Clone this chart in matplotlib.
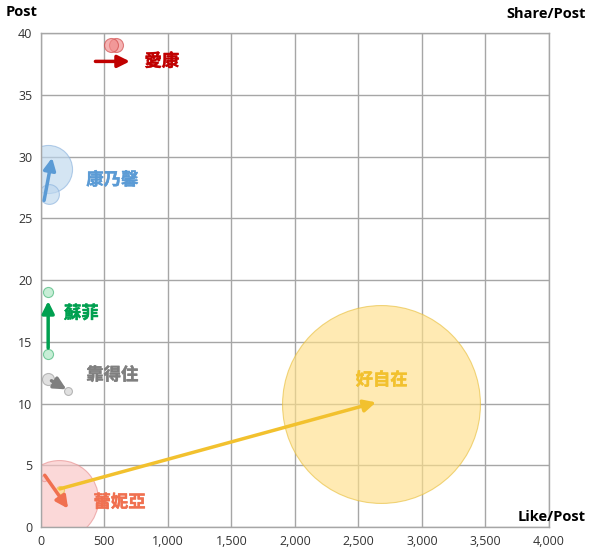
import numpy as np
import matplotlib.pyplot as plt
import matplotlib.patheffects as pe
from matplotlib.ticker import FuncFormatter

plt.rcParams['font.family'] = ['Noto Sans CJK TC', 'DejaVu Sans']

# brand data: previous period -> current period
brands = ['愛康', '康乃馨', '蘇菲', '靠得住', '蕾妮亞', '好自在']
prev_like = [551, 63, 55, 55, 24, 150]
prev_post = [39, 27, 14, 12, 4, 3]
prev_share = [0.5, 1.0, 0.26, 0.37, 0.1, 0.16]
cur_like = [590, 55, 55, 213, 140, 2677]
cur_post = [39, 29, 19, 11, 2.3, 10]
cur_share = [0.5, 5.9, 0.26, 0.16, 15.5, 100]

# arrow annotations (tail -> head) and label anchors, data coords
arrow_from = [(430, 37.7), (26, 26.45), (58, 14.5), (84, 11.85), (31, 4.2), (150, 3.1)]
arrow_to = [(701, 37.7), (89, 29.9), (58, 18.3), (202, 11.15), (215, 1.5), (2638, 10.1)]
label_pos = [(953, 37.7), (563, 28.1), (319, 17.3), (563, 12.3), (620, 2.0), (2683, 11.9)]

text_colors = ['#C00000', '#5B9BD5', '#00A050', '#7F7F7F', '#F07050', '#F2C12E']
fill_colors = ['#F08A8A', '#BDD7EE', '#A9E5C0', '#D0D0D0', '#F9C4C4', '#FFE08A']
edge_colors = ['#D04848', '#8DB4DE', '#3CB371', '#999999', '#E89090', '#E8C040']
arrow_colors = ['#C00000', '#5B9BD5', '#00A050', '#7F7F7F', '#F07050', '#F2C12E']

K = 203.0  # marker area (pt^2) per Share/Post unit

fig = plt.figure(figsize=(6.0, 5.59), dpi=100)
ax = fig.add_axes([0.068, 0.057, 0.847, 0.884])

ax.set_xlim(0, 4000)
ax.set_ylim(0, 40)
ax.set_xticks(np.arange(0, 4001, 500))
ax.set_yticks(np.arange(0, 41, 5))
ax.xaxis.set_major_formatter(FuncFormatter(lambda v, p: f'{int(v):,}'))
ax.grid(True, color='#A6A6A6', lw=1.0, zorder=0)
ax.tick_params(length=0, labelsize=9, colors='#333333', pad=6)
for lab in ax.get_xticklabels() + ax.get_yticklabels():
    lab.set_family(['Open Sans', 'DejaVu Sans'])
for sp in ax.spines.values():
    sp.set_color('#A6A6A6')
    sp.set_linewidth(1.0)

# bubbles, biggest drawn first
all_pts = []
for i in range(len(brands)):
    all_pts.append((cur_share[i], cur_like[i], cur_post[i], i))
    all_pts.append((prev_share[i], prev_like[i], prev_post[i], i))
all_pts.sort(key=lambda t: -t[0])
for z, (sh, x, y, i) in enumerate(all_pts):
    ax.scatter([x], [y], s=sh * K, color=fill_colors[i], edgecolors=edge_colors[i],
               linewidths=0.8, alpha=0.65, zorder=2 + z * 0.01)

for i in range(len(brands)):
    ax.annotate('', xy=arrow_to[i], xytext=arrow_from[i],
                arrowprops=dict(arrowstyle='-|>', color=arrow_colors[i], lw=2.5,
                                mutation_scale=18, shrinkA=0, shrinkB=0),
                zorder=4)
    ax.text(label_pos[i][0], label_pos[i][1], brands[i], color=text_colors[i],
            fontsize=12.5, fontweight='bold', ha='center', va='center', zorder=5,
            path_effects=[pe.withStroke(linewidth=0.35, foreground=text_colors[i])])

head_font = ['Open Sans', 'DejaVu Sans']
fig.text(6 / 600, 1 - 12 / 559, 'Post', fontsize=10.5, fontweight='bold',
         ha='left', va='center', family=head_font)
fig.text(586 / 600, 1 - 14 / 559, 'Share/Post', fontsize=10.5, fontweight='bold',
         ha='right', va='center', family=head_font)
fig.text(586 / 600, 1 - 517 / 559, 'Like/Post', fontsize=10.5, fontweight='bold',
         ha='right', va='center', family=head_font)

fig.savefig('out.png', dpi=100, facecolor='white')
